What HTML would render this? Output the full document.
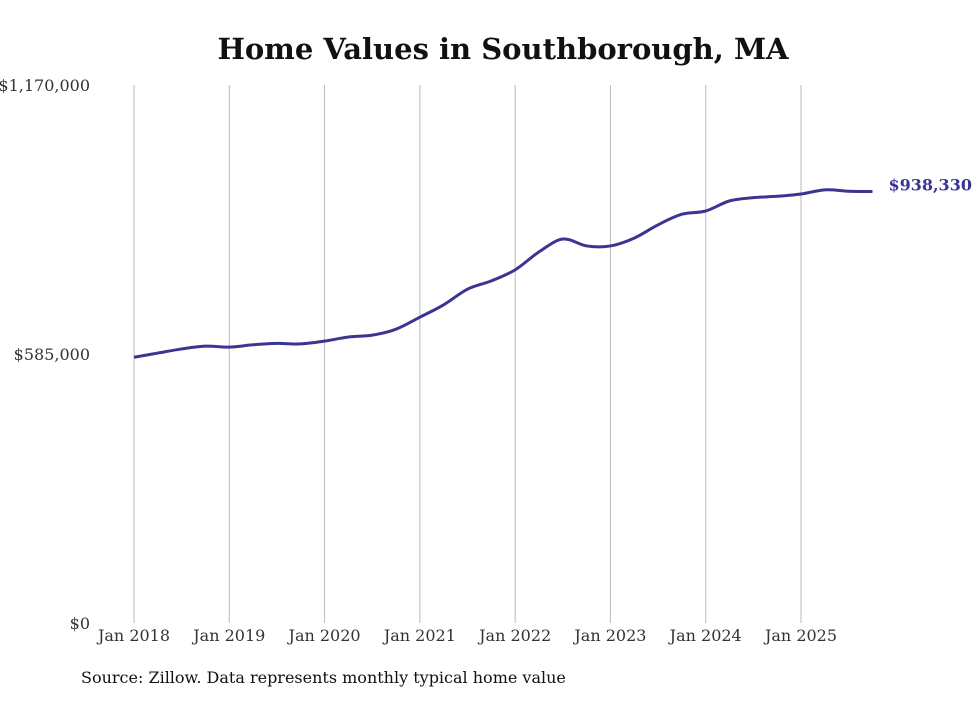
<!DOCTYPE html>
<html><head><meta charset="utf-8"><style>
body{margin:0;background:#fff;width:980px;height:699px;overflow:hidden}
text{font-family:"DejaVu Serif",serif}
</style></head><body>
<svg id="chart" width="980" height="699" xmlns="http://www.w3.org/2000/svg">
<text x="503" y="59" text-anchor="middle" font-weight="bold" font-size="29" fill="#111">Home Values in Southborough, MA</text>
<g id="grid"></g>
<g id="yticks"></g>
<g id="xticks"></g>
<path id="line" fill="none" stroke="#3b3592" stroke-width="3"/>
<text id="endlabel" font-weight="bold" font-size="16" fill="#3b3592"></text>
<text x="81" y="683" font-size="16" fill="#111">Source: Zillow. Data represents monthly typical home value</text>
</svg>
<script>
const months=[0,3,6,9,12,15,18,21,24,27,30,33,36,39,42,45,48,51,54,57,60,63,66,69,72,75,78,81,84,87,90,93];
const values=[578000,587000,596000,602000,600000,605000,608000,607000,613000,622000,626000,639000,665000,692000,726000,744000,768000,807000,835000,820000,820000,837000,866000,889000,896000,918000,925000,928000,933000,942000,939000,938330];
const yTicks=[0,585000,1170000];
const yTickLabels=["$0","$585,000","$1,170,000"];
const xYears=[0,1,2,3,4,5,6,7];
const xTickLabels=["Jan 2018","Jan 2019","Jan 2020","Jan 2021","Jan 2022","Jan 2023","Jan 2024","Jan 2025"];
const endLabel="$938,330";
const NS="http://www.w3.org/2000/svg";
const x=m=>134+m*(801-134)/84;
const y=v=>623-v*538/1170000;
const grid=document.getElementById('grid'),xt=document.getElementById('xticks'),yt=document.getElementById('yticks');
xYears.forEach((yr,i)=>{
 const l=document.createElementNS(NS,'line');
 
 
 l.setAttribute('x1',x(yr*12));l.setAttribute('x2',x(yr*12));l.setAttribute('y1',85);l.setAttribute('y2',623);
 l.setAttribute('stroke','#bbb');l.setAttribute('stroke-width','1');grid.appendChild(l);
 const t=document.createElementNS(NS,'text');
 
 
 t.setAttribute('x',x(yr*12));t.setAttribute('y',641);t.setAttribute('text-anchor','middle');
 t.setAttribute('font-size','16');t.setAttribute('fill','#333');t.textContent=xTickLabels[i];xt.appendChild(t);
});
yTicks.forEach((v,i)=>{
 const t=document.createElementNS(NS,'text');
 
 
 t.setAttribute('x',90);t.setAttribute('y',y(v)+6);t.setAttribute('text-anchor','end');
 t.setAttribute('font-size','16');t.setAttribute('fill','#333');t.textContent=yTickLabels[i];yt.appendChild(t);
});
const P=months.map((m,i)=>[x(m),y(values[i])]);
let d='M'+P[0][0]+','+P[0][1];
for(let i=0;i<P.length-1;i++){
 const p0=P[i-1]||P[i],p1=P[i],p2=P[i+1],p3=P[i+2]||p2;
 const c1=[p1[0]+(p2[0]-p0[0])/6,p1[1]+(p2[1]-p0[1])/6],c2=[p2[0]-(p3[0]-p1[0])/6,p2[1]-(p3[1]-p1[1])/6];
 d+=` C${c1[0]},${c1[1]} ${c2[0]},${c2[1]} ${p2[0]},${p2[1]}`;
}
document.getElementById('line').setAttribute('d',d);
const el=document.getElementById('endlabel');
const last=P[P.length-1];
el.setAttribute('x',last[0]+16);el.setAttribute('y',last[1]-1);el.textContent=endLabel;
</script>
</body></html>
